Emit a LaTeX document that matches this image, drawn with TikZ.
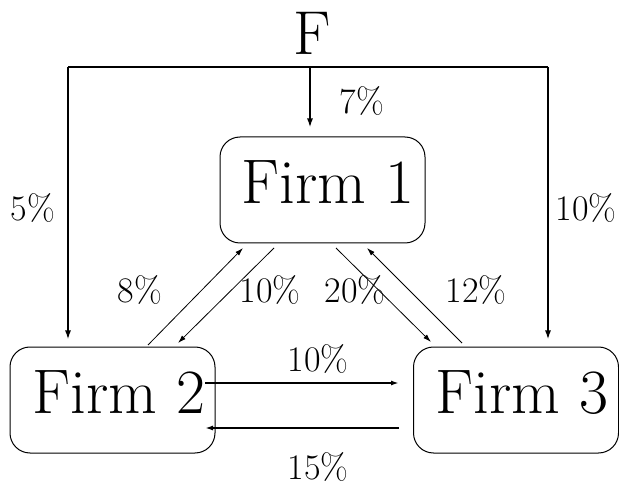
\documentclass[tikz,border=0pt]{standalone}
\usetikzlibrary{arrows.meta}
\begin{document}
\begin{tikzpicture}[x=1pt,y=-1pt,
  firm/.style={draw, rounded corners=20pt, line width=1pt, minimum width=205pt, minimum height=106pt,
    inner sep=0pt, text height=43pt, text depth=16pt, font=\fontsize{63}{66}\selectfont},
  pct/.style={font=\fontsize{36}{38}\selectfont, inner sep=0pt},
  heavy/.style={line width=1.6pt},
  light/.style={line width=0.8pt},
  tip/.style={-{Latex[length=9pt,width=6pt]}},
  smalltip/.style={-{Latex[length=8pt,width=5pt]}}]
\useasboundingbox (0,0) rectangle (619,489);
% nodes
\node[font=\fontsize{62}{64}\selectfont, inner sep=0pt] (F) at (312,33) {F};
\node[firm] (f1) at (322.5,190) {\hspace*{11pt}Firm 1};
\node[firm] (f2) at (112.5,400) {\hspace*{13pt}Firm 2};
\node[firm] (f3) at (516,400) {\hspace*{12pt}Firm 3};
% distribution bus from F
\coordinate (busL) at (68,67);
\coordinate (busM) at (310,67);
\coordinate (busR) at (548,67);
\draw[heavy] (busL) -- (busR);
\draw[heavy,tip,shorten >=7pt] (busL) -- (busL |- f2.north);
\draw[heavy,tip,shorten >=9pt] (busM) -- (busM |- f1.north);
\draw[heavy,tip,shorten >=7pt] (busR) -- (busR |- f3.north);
% diagonal flows
\coordinate (d1s) at (148,345); \coordinate (d1e) at (243,248);
\coordinate (d2s) at (274,248); \coordinate (d2e) at (178,343);
\coordinate (d3s) at (336,248); \coordinate (d3e) at (431,342);
\coordinate (d4s) at (462,343); \coordinate (d4e) at (367,248);
\draw[light,smalltip] (d1s) -- (d1e);
\draw[light,smalltip] (d2s) -- (d2e);
\draw[light,smalltip] (d3s) -- (d3e);
\draw[light,smalltip] (d4s) -- (d4e);
% horizontal flows
\coordinate (h1s) at (205,383); \coordinate (h1e) at (399,383);
\coordinate (h2s) at (399,428); \coordinate (h2e) at (205,428);
\draw[heavy,smalltip] (h1s) -- (h1e);
\draw[heavy,smalltip] (h2s) -- (h2e);
% labels
\node[pct] (l7) at (362,101) {7\%};
\node[pct] (l5) at (33,208) {5\%};
\node[pct] (l10r) at (586,208) {10\%};
\node[pct] (l8) at (140,290) {8\%};
\node[pct] (l10a) at (270,290) {10\%};
\node[pct] (l20) at (355,290) {20\%};
\node[pct] (l12) at (476,290) {12\%};
\node[pct] (l10b) at (318,359) {10\%};
\node[pct] (l15) at (318,467) {15\%};
\end{tikzpicture}
\end{document}
